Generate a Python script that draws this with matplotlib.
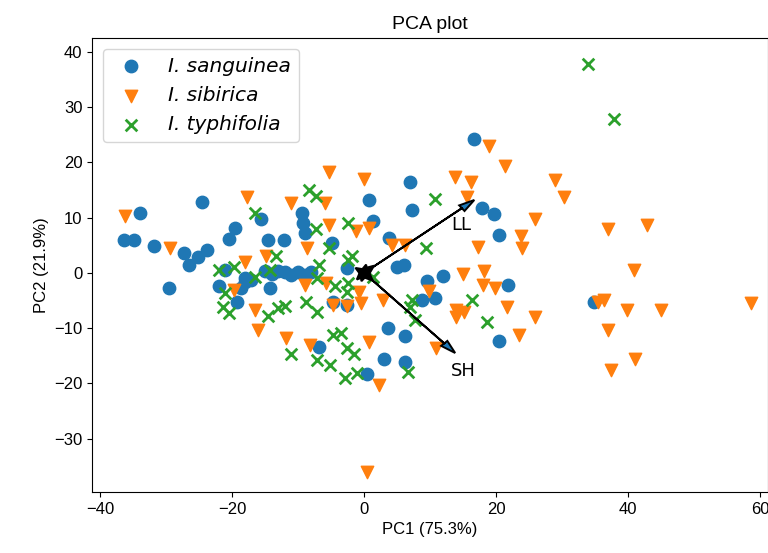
import matplotlib
matplotlib.use("Agg")
import matplotlib.pyplot as plt
import numpy as np

plt.rcParams['font.family'] = ['Liberation Sans', 'DejaVu Sans']

species = ["I. sanguinea", "I. sibirica", "I. typhifolia"]

sanguinea_pc1 = [-33.9, -24.5, -15.6, -36.4, -34.9, -31.8, -27.3, -26.6, -25.2, -23.8, -19.5, -20.5,
                 -21.0, -18.0, -29.6, -22.0, -18.7, -18.0, -17.2, -19.2, -9.4, -9.2, -8.9, 0.7, 1.3,
                 -14.6, -12.2, -4.9, -2.6, -15.0, -14.0, -13.0, -12.0, -11.0, -10.0, -9.0, -8.0,
                 -14.2, -4.7, -2.6, -6.8, 0.4, 3.0, 16.7, 6.9, 7.2, 17.9, 19.7, 20.5, 3.8, 5.0, 6.0,
                 9.5, 11.9, 21.8, 8.7, 10.8, 3.6, 6.2, 20.5, 6.2, 34.8]
sanguinea_pc2 = [10.9, 12.9, 9.8, 6.0, 6.0, 4.8, 3.6, 1.5, 2.8, 4.2, 8.2, 6.1,
                 0.5, -0.9, -2.8, -2.4, -2.8, -1.6, -1.3, -5.3, 10.8, 9.0, 7.2, 13.2, 9.4,
                 5.9, 5.9, 5.5, 0.8, 0.3, -0.2, 0.4, 0.2, -0.3, 0.1, -0.3, 0.2,
                 -2.8, -5.2, -5.8, -13.5, -18.3, -15.6, 24.3, 16.4, 11.3, 11.7, 10.7, 6.8, 6.3, 1.1, 1.4,
                 -1.4, -0.5, -2.2, -4.9, -4.6, -10.0, -11.4, -12.4, -16.1, -5.2]

sibirica_pc1 = [-36.3, -17.8, -29.4, -18.0, -19.7, -16.6, -16.1, -5.3, 0.0, -11.1, -5.9, -5.3, -1.2,
                0.8, -8.7, -14.8, -8.9, -5.7, -0.7, -0.5, -4.7, -2.6, -11.9, -8.2, 0.7, 2.2, 0.4,
                18.9, 21.4, 13.7, 16.2, 15.6, 4.2, 6.2, 17.3, 18.2, 15.0, 18.0, 19.8, 9.9, 2.9,
                14.0, 15.1, 13.9, 21.7, 10.9, 28.9, 30.3, 25.9, 23.7, 23.9, 36.9, 42.9, 40.9,
                25.9, 23.5, 35.5, 36.4, 39.9, 45.0, 58.6, 37.0, 37.4, 41.0]
sibirica_pc2 = [10.3, 13.8, 4.5, 2.0, -3.1, -6.8, -10.3, 18.2, 17.0, 12.6, 12.6, 8.7, 7.5,
                8.1, 4.5, 3.1, -2.2, -1.8, -3.4, -5.4, -5.8, -6.0, -11.8, -13.0, -12.5, -20.3, -36.0,
                23.0, 19.3, 17.4, 16.4, 13.8, 5.1, 5.1, 4.7, 0.4, -0.2, -2.2, -2.8, -3.2, -4.9,
                -6.7, -7.0, -7.9, -6.1, -13.6, 16.8, 13.8, 9.7, 6.7, 4.5, 7.9, 8.7, 0.5,
                -7.9, -11.2, -5.2, -4.9, -6.8, -6.8, -5.5, -10.4, -17.6, -15.5]

typhifolia_pc1 = [-16.5, -22.0, -19.7, -16.5, -21.0, -21.4, -20.5, -8.3, -7.3, -7.3, -2.4, -5.3,
                  -13.3, -6.9, -2.4, -14.2, -7.2, -4.4, -2.4, -2.6, -14.5, -13.0, -12.0, -8.8, -7.2,
                  -11.0, -7.2, -5.2, -4.7, -3.5, -2.6, -1.5, -2.9, -1.0, 10.8, 9.4, -1.9, 1.4, 7.2,
                  6.9, 7.7, 16.3, 18.6, 6.7, 34.0, 37.9]
typhifolia_pc2 = [10.8, 0.5, 1.1, -0.7, -3.6, -6.1, -7.2, 15.0, 14.0, 7.9, 9.0, 4.5,
                  3.0, 1.4, 2.4, 0.5, -1.0, -2.4, -1.9, -3.4, -7.8, -6.4, -6.0, -5.2, -7.0,
                  -14.6, -15.8, -16.7, -11.2, -10.9, -13.6, -14.6, -19.1, -18.2, 13.3, 4.5, 3.0, -0.7, -4.9,
                  -6.2, -8.5, -4.9, -8.8, -17.9, 37.9, 27.8]

loading_names = ["LL", "SH"]
loading_pc1 = [16.7, 13.8]
loading_pc2 = [13.2, -14.5]
small_pc1 = [1.5, -1.3, 1.3, -1.1, 0.3, -0.4]
small_pc2 = [1.3, 0.9, -1.4, -1.2, 1.5, -1.5]
label_pc1 = [14.7, 15.0]
label_pc2 = [8.7, -17.8]

fig, ax = plt.subplots(figsize=(7.68, 5.53), dpi=100)
fig.subplots_adjust(left=0.12, right=1.0, top=0.932, bottom=0.11)

ax.scatter(sanguinea_pc1, sanguinea_pc2, marker='o', s=80, color='C0', label=species[0], zorder=2)
ax.scatter(sibirica_pc1, sibirica_pc2, marker='v', s=80, color='C1', label=species[1], zorder=2)
ax.scatter(typhifolia_pc1, typhifolia_pc2, marker='x', s=70, linewidths=2, color='C2', label=species[2], zorder=2)

for dx, dy in zip(loading_pc1, loading_pc2):
    ax.arrow(0, 0, dx, dy, head_width=1.3, head_length=2.4, length_includes_head=True,
             facecolor='C0', edgecolor='k', linewidth=1.4, zorder=3)
for dx, dy in zip(small_pc1, small_pc2):
    ax.arrow(0, 0, dx, dy, head_width=1.3, head_length=1.5, length_includes_head=True,
             facecolor='k', edgecolor='k', linewidth=1.4, zorder=3)
for name, lx, ly in zip(loading_names, label_pc1, label_pc2):
    ax.text(lx, ly, name, fontsize=13, family='DejaVu Sans', ha='center', va='center', zorder=4)

ax.set_xlim(-41.2, 61.2)
ax.set_ylim(-39.7, 42.6)
ax.set_xticks([-40, -20, 0, 20, 40, 60])
ax.set_yticks([-30, -20, -10, 0, 10, 20, 30, 40])
ax.tick_params(labelsize=12)
ax.set_xlabel("PC1 (75.3%)", fontsize=12)
ax.set_ylabel("PC2 (21.9%)", fontsize=12)
ax.set_title("PCA plot", fontsize=14)
leg = ax.legend(loc='upper left', prop={'family': 'DejaVu Sans', 'style': 'italic', 'size': 14.5},
                borderaxespad=0.55, handletextpad=0.8)

fig.savefig("out.png", dpi=100)
